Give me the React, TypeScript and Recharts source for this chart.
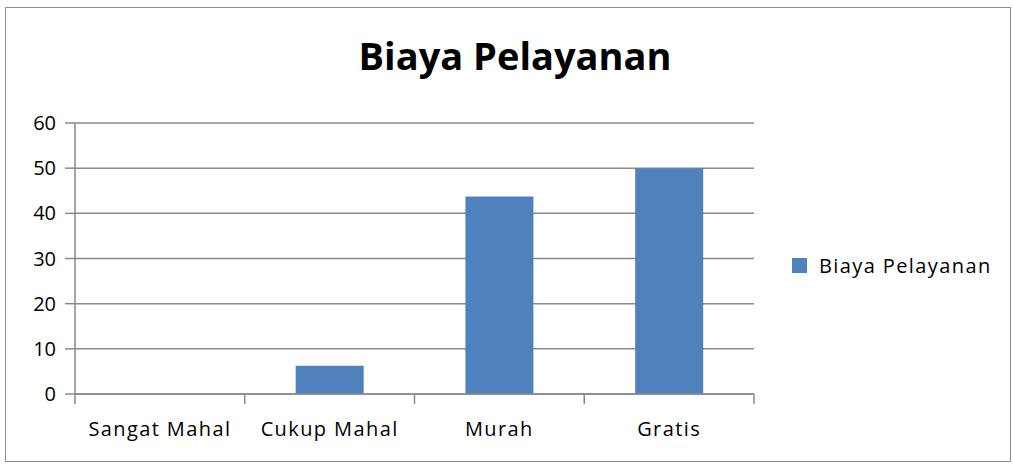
import { BarChart, Bar, CartesianGrid, XAxis, YAxis, Legend } from "recharts";

const categories = ["Sangat Mahal", "Cukup Mahal", "Murah", "Gratis"];
const biayaPelayanan = [0, 6.25, 43.75, 50];
const yTicks = [0, 10, 20, 30, 40, 50, 60];
const seriesName = "Biaya Pelayanan";

const data = categories.map((name, i) => ({ name, value: biayaPelayanan[i] }));

const W = 1013;
const H = 465;
const margin = { top: 123, right: 259, bottom: 31, left: 15 };
const yAxisWidth = 60;
const band = (W - margin.left - margin.right - yAxisWidth) / categories.length;

const FONT = "'Open Sans', sans-serif";
const GRID = "#8a8a8a";
const BAR = "#4f81bd";

function CategoryTick(props: any) {
  const { x, y, payload, index } = props;
  const left = x - band / 2;
  const right = x + band / 2;
  return (
    <g>
      <line x1={left} x2={left} y1={y} y2={y + 10} stroke={GRID} strokeWidth={1.5} />
      {index === categories.length - 1 && (
        <line x1={right} x2={right} y1={y} y2={y + 10} stroke={GRID} strokeWidth={1.5} />
      )}
      <text
        x={x}
        y={y + 42}
        textAnchor="middle"
        fill="#000"
        fontSize={20}
        letterSpacing={1.4}
        fontFamily={FONT}
      >
        {payload.value}
      </text>
    </g>
  );
}

function LegendBox(props: any) {
  const { payload } = props;
  return (
    <div style={{ fontFamily: FONT }}>
      {(payload || []).map((entry: any) => (
        <div key={entry.value} style={{ display: "flex", alignItems: "center" }}>
          <span
            style={{
              display: "inline-block",
              width: 15,
              height: 15,
              background: entry.color,
              marginRight: 12,
            }}
          />
          <span style={{ fontSize: 20, letterSpacing: 1.4, color: "#000" }}>{entry.value}</span>
        </div>
      ))}
    </div>
  );
}

export default function App() {
  return (
    <div style={{ position: "absolute", left: 0, top: 0, width: W, height: H, background: "#fff" }}>
      <div
        style={{
          position: "absolute",
          left: 5,
          top: 7,
          width: 1006,
          height: 455,
          border: "1px solid #8c8c8c",
          boxSizing: "border-box",
        }}
      />
      <div
        style={{
          position: "absolute",
          left: 0,
          top: 36,
          width: 1030,
          textAlign: "center",
          fontFamily: FONT,
          fontWeight: 700,
          fontSize: 38,
          lineHeight: "38px",
          color: "#000",
        }}
      >
        Biaya Pelayanan
      </div>
      <div style={{ position: "absolute", left: 0, top: 0 }}>
        <BarChart width={W} height={H} data={data} margin={margin} barCategoryGap="30%">
          <CartesianGrid vertical={false} stroke={GRID} strokeWidth={1.5} />
          <XAxis
            dataKey="name"
            height={40}
            stroke={GRID}
            strokeWidth={1.5}
            tickLine={false}
            tickSize={0}
            tickMargin={0}
            interval={0}
            tick={<CategoryTick />}
          />
          <YAxis
            width={yAxisWidth}
            domain={[0, 60]}
            ticks={yTicks}
            stroke={GRID}
            strokeWidth={1.5}
            tickSize={10}
            tickMargin={9}
            tick={{ fill: "#000", fontSize: 20, fontFamily: FONT }}
          />
          <Legend
            layout="vertical"
            align="center"
            verticalAlign="middle"
            wrapperStyle={{ left: 792, top: 252, width: 220 }}
            content={<LegendBox />}
          />
          <Bar dataKey="value" name={seriesName} fill={BAR} isAnimationActive={false} />
        </BarChart>
      </div>
    </div>
  );
}
